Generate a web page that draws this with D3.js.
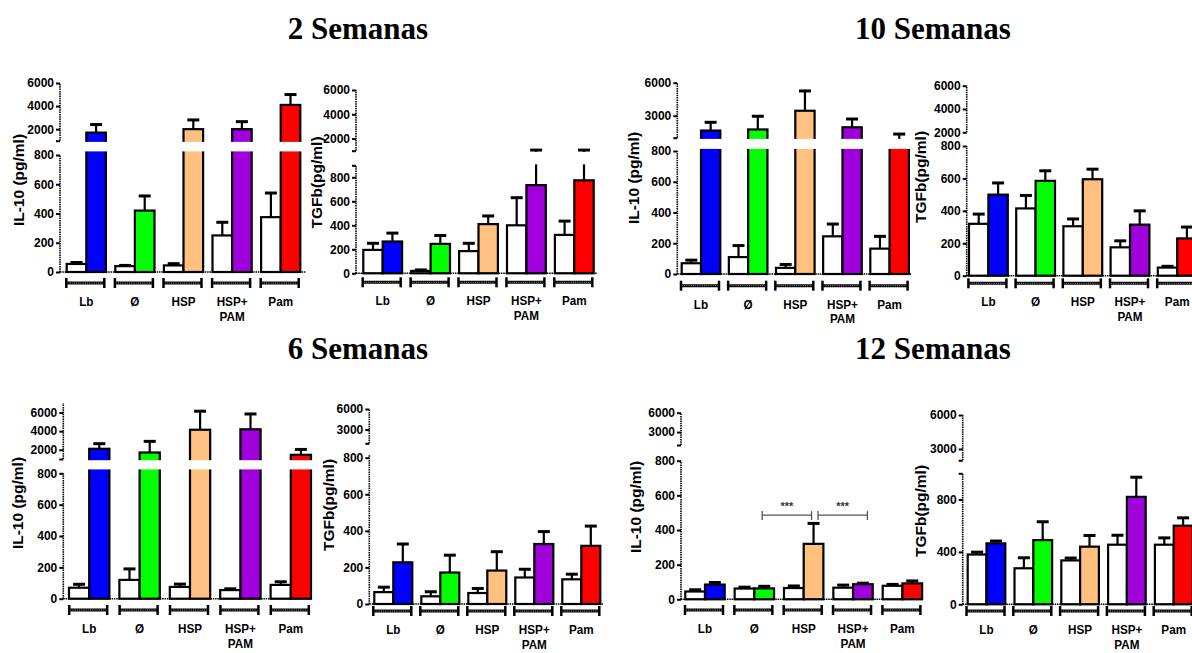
<!DOCTYPE html>
<html>
<head>
<meta charset="utf-8">
<script src="https://cdn.jsdelivr.net/npm/d3@7"></script>
<style>
body { margin: 0; background: #fff; }
svg { display: block; }
.tick text { font-family: "Liberation Sans", Arial, sans-serif; font-weight: bold; font-size: 12px; fill: #000; }
</style>
</head>
<body>
<svg id="chart" width="1192" height="653"></svg>
<script>
// groups and colours
var groups = [["Lb"], ["Ø"], ["HSP"], ["HSP+", "PAM"], ["Pam"]];
var treatColors = ["#0000ff", "#00ff00", "#ffc080", "#a000dc", "#ff0000"];
var titles = ["2 Semanas", "10 Semanas", "6 Semanas", "12 Semanas"];

// 2 semanas
var il10_2sem_ctrl = [55, 40, 45, 250, 375];
var il10_2sem_ctrlErr = [10, 5, 12, 90, 165];
var il10_2sem_trt = [1700, 420, 2000, 2000, 4100];
var il10_2sem_trtErr = [700, 100, 800, 650, 900];

var tgfb_2sem_ctrl = [195, 20, 185, 400, 320];
var tgfb_2sem_ctrlErr = [55, 8, 65, 230, 115];
var tgfb_2sem_trt = [265, 245, 410, 735, 775];
var tgfb_2sem_trtErr = [70, 70, 68, 315, 275];

// 10 semanas
var il10_10sem_ctrl = [70, 110, 40, 245, 165];
var il10_10sem_ctrlErr = [20, 75, 22, 80, 80];
var il10_10sem_trt = [1650, 1750, 3450, 1950, 900];
var il10_10sem_trtErr = [750, 1200, 1800, 750, 430];

var tgfb_10sem_ctrl = [320, 415, 305, 175, 50];
var tgfb_10sem_ctrlErr = [60, 80, 45, 40, 8];
var tgfb_10sem_trt = [500, 585, 595, 315, 230];
var tgfb_10sem_trtErr = [72, 62, 62, 85, 70];

// 6 semanas
var il10_6sem_ctrl = [70, 120, 75, 55, 88];
var il10_6sem_ctrlErr = [22, 70, 18, 8, 20];
var il10_6sem_trt = [2100, 1700, 4150, 4200, 1450];
var il10_6sem_trtErr = [550, 1200, 2000, 1650, 580];

var tgfb_6sem_ctrl = [65, 42, 60, 145, 135];
var tgfb_6sem_ctrlErr = [27, 25, 25, 45, 28];
var tgfb_6sem_trt = [228, 172, 183, 328, 318];
var tgfb_6sem_trtErr = [100, 95, 103, 68, 108];

// 12 semanas
var il10_12sem_ctrl = [45, 62, 65, 67, 78];
var il10_12sem_ctrlErr = [10, 8, 12, 15, 8];
var il10_12sem_trt = [85, 63, 320, 87, 92];
var il10_12sem_trtErr = [12, 12, 118, 6, 14];

var tgfb_12sem_ctrl = [380, 275, 335, 455, 455];
var tgfb_12sem_ctrlErr = [18, 80, 18, 72, 52];
var tgfb_12sem_trt = [465, 490, 440, 820, 600];
var tgfb_12sem_trtErr = [18, 140, 85, 150, 60];

// significance (12 semanas, IL-10): between treated bars of groups
var sig12_pairs = [[1, 2], [2, 3]];
var sig12_labels = ["***", "***"];
var sig12_level = 486;

// layout of each panel (pixel positions only)
var panels = [
  {ctrl: il10_2sem_ctrl, ctrlErr: il10_2sem_ctrlErr, trt: il10_2sem_trt, trtErr: il10_2sem_trtErr, yTitle: "IL-10 (pg/ml)",
   axisX: 60, y0: 272, low: [0, 800], lowTop: 155, lowAxisTop: 155, gapBottom: 152, gapTop: 140.7, up: [1000, 6000], upTop: 83,
   lowTicks: [0, 200, 400, 600, 800], lowMarks: [], upTicks: [2000, 4000, 6000], upMarks: [1000],
   barX0: 66.7, step: 48.6, barW: 19.6, xEnd: 306, bracketY: 283, tx: 18.3, ty: 180},
  {ctrl: tgfb_2sem_ctrl, ctrlErr: tgfb_2sem_ctrlErr, trt: tgfb_2sem_trt, trtErr: tgfb_2sem_trtErr, yTitle: "TGFb(pg/ml)",
   axisX: 356, y0: 273.3, low: [0, 900], lowTop: 165.3, lowAxisTop: 165.3, gapBottom: 165, gapTop: 150.7, up: [1000, 6000], upTop: 90,
   lowTicks: [0, 200, 400, 600, 800], lowMarks: [900], upTicks: [2000, 4000, 6000], upMarks: [1000],
   barX0: 363.3, step: 47.9, barW: 19.4, xEnd: 597, bracketY: 282.3, tx: 316.7, ty: 182.5},
  {ctrl: il10_10sem_ctrl, ctrlErr: il10_10sem_ctrlErr, trt: il10_10sem_trt, trtErr: il10_10sem_trtErr, yTitle: "IL-10 (pg/ml)",
   axisX: 677.3, y0: 274, low: [0, 800], lowTop: 151, lowAxisTop: 151, gapBottom: 149.5, gapTop: 137.7, up: [1000, 6000], upTop: 82.7,
   lowTicks: [0, 200, 400, 600, 800], lowMarks: [], upTicks: [3000, 6000], upMarks: [1000],
   barX0: 681.7, step: 47.15, barW: 19.3, xEnd: 912, bracketY: 285.7, tx: 633.5, ty: 178},
  {ctrl: tgfb_10sem_ctrl, ctrlErr: tgfb_10sem_ctrlErr, trt: tgfb_10sem_trt, trtErr: tgfb_10sem_trtErr, yTitle: "TGFb(pg/ml)",
   axisX: 966.7, y0: 275.7, low: [0, 800], lowTop: 146, lowAxisTop: 146, gapBottom: 146, gapTop: 132.3, up: [2000, 6000], upTop: 85.7,
   lowTicks: [0, 200, 400, 600, 800], lowMarks: [], upTicks: [2000, 4000, 6000], upMarks: [],
   barX0: 969, step: 47.2, barW: 19.4, xEnd: 1200, bracketY: 283.3, tx: 921, ty: 177},
  {ctrl: il10_6sem_ctrl, ctrlErr: il10_6sem_ctrlErr, trt: il10_6sem_trt, trtErr: il10_6sem_trtErr, yTitle: "IL-10 (pg/ml)",
   axisX: 63.3, y0: 598.7, low: [0, 800], lowTop: 473.3, lowAxisTop: 473.3, gapBottom: 470, gapTop: 459, up: [1000, 7000], upTop: 403.3,
   lowTicks: [0, 200, 400, 600, 800], lowMarks: [], upTicks: [2000, 4000, 6000], upMarks: [1000],
   barX0: 69, step: 50.4, barW: 20.2, xEnd: 312, bracketY: 610, tx: 17.5, ty: 503},
  {ctrl: tgfb_6sem_ctrl, ctrlErr: tgfb_6sem_ctrlErr, trt: tgfb_6sem_trt, trtErr: tgfb_6sem_trtErr, yTitle: "TGFb(pg/ml)",
   axisX: 369.3, y0: 604, low: [0, 800], lowTop: 457.7, lowAxisTop: 455, gapBottom: 455, gapTop: 443.3, up: [1000, 6000], upTop: 409,
   lowTicks: [0, 200, 400, 600, 800], lowMarks: [], upTicks: [3000, 6000], upMarks: [1000],
   barX0: 374.3, step: 47, barW: 19, xEnd: 603, bracketY: 611, tx: 329, ty: 505},
  {ctrl: il10_12sem_ctrl, ctrlErr: il10_12sem_ctrlErr, trt: il10_12sem_trt, trtErr: il10_12sem_trtErr, yTitle: "IL-10 (pg/ml)",
   axisX: 681, y0: 599.3, low: [0, 800], lowTop: 460.7, lowAxisTop: 460.7, gapBottom: 460.7, gapTop: 445, up: [1000, 6000], upTop: 412.7,
   lowTicks: [0, 200, 400, 600, 800], lowMarks: [], upTicks: [3000, 6000], upMarks: [1000],
   barX0: 685.3, step: 49.35, barW: 19.7, xEnd: 922, bracketY: 610, tx: 636, ty: 507, sig: true},
  {ctrl: tgfb_12sem_ctrl, ctrlErr: tgfb_12sem_ctrlErr, trt: tgfb_12sem_trt, trtErr: tgfb_12sem_trtErr, yTitle: "TGFb(pg/ml)",
   axisX: 962.7, y0: 604.3, low: [0, 1000], lowTop: 473.3, lowAxisTop: 473.3, gapBottom: 473.3, gapTop: 460.3, up: [2000, 6000], upTop: 415,
   lowTicks: [0, 400, 800], lowMarks: [1000], upTicks: [3000, 6000], upMarks: [2000],
   barX0: 967.7, step: 46.8, barW: 18.8, xEnd: 1200, bracketY: 611, tx: 921, ty: 511}
];

var titlePos = [[358, 38.5], [933, 38.5], [358, 358.5], [933, 358.5]];

var svg = d3.select("#chart");
var font = '"Liberation Sans", Arial, sans-serif';

// big titles
svg.selectAll("text.title").data(titles).join("text")
  .attr("class", "title")
  .attr("x", function(d, i){ return titlePos[i][0] })
  .attr("y", function(d, i){ return titlePos[i][1] })
  .attr("text-anchor", "middle")
  .attr("font-family", '"Liberation Serif", "Times New Roman", serif')
  .attr("font-weight", "bold")
  .attr("font-size", 31)
  .text(function(d){ return d });

function drawPanel(p) {
  var g = svg.append("g");
  var low = d3.scaleLinear().domain(p.low).range([p.y0, p.lowTop]);
  var up = d3.scaleLinear().domain(p.up).range([p.gapTop, p.upTop]);
  // broken axis: lower part, upper part, anything in between is hidden by the gap
  function y(v) {
    var a = low(v);
    if (a >= p.gapBottom) return a;
    var b = up(v);
    if (b <= p.gapTop) return b;
    return (p.gapTop + p.gapBottom) / 2;
  }
  var n = groups.length;
  var pin = 1 - 2 * p.barW / p.step;
  var x = d3.scaleBand().domain(d3.range(n))
    .range([p.barX0, p.barX0 + p.step * (n - pin)])
    .paddingInner(pin).paddingOuter(0);
  var bw = x.bandwidth() / 2;

  var bars = [];
  d3.range(n).forEach(function(i){
    bars.push({i: i, v: p.ctrl[i], e: p.ctrlErr[i], fill: "#fff", off: 0});
    bars.push({i: i, v: p.trt[i], e: p.trtErr[i], fill: treatColors[i], off: 1});
  });

  g.selectAll("rect.bar").data(bars).join("rect")
    .attr("class", "bar")
    .attr("x", function(d){ return x(d.i) + d.off * bw })
    .attr("y", function(d){ return y(d.v) })
    .attr("width", bw)
    .attr("height", function(d){ return p.y0 - y(d.v) })
    .attr("fill", function(d){ return d.fill })
    .attr("stroke", "#000")
    .attr("stroke-width", 2.2);

  // error bars (upper only)
  g.selectAll("line.stem").data(bars).join("line")
    .attr("class", "stem")
    .attr("x1", function(d){ return x(d.i) + d.off * bw + bw / 2 })
    .attr("x2", function(d){ return x(d.i) + d.off * bw + bw / 2 })
    .attr("y1", function(d){ return y(d.v) })
    .attr("y2", function(d){ return y(d.v + d.e) })
    .attr("stroke", "#000").attr("stroke-width", 2.2);
  g.selectAll("line.cap").data(bars).join("line")
    .attr("class", "cap")
    .attr("x1", function(d){ return x(d.i) + d.off * bw + bw / 2 - 6 })
    .attr("x2", function(d){ return x(d.i) + d.off * bw + bw / 2 + 6 })
    .attr("y1", function(d){ return y(d.v + d.e) })
    .attr("y2", function(d){ return y(d.v + d.e) })
    .attr("stroke", "#000").attr("stroke-width", 3);

  // white gap of the broken axis
  g.append("rect")
    .attr("x", p.axisX + 1)
    .attr("y", p.gapTop + 1.2)
    .attr("width", p.xEnd - p.axisX + 4)
    .attr("height", Math.max(0, p.gapBottom - p.gapTop - 1.8))
    .attr("fill", "#fff");

  // y axis segments
  var axLow = d3.axisLeft(low).tickValues(p.lowTicks.concat(p.lowMarks)).tickSize(4).tickPadding(2)
    .tickFormat(function(d){ return p.lowMarks.indexOf(d) >= 0 ? "" : String(d) });
  var axUp = d3.axisLeft(up).tickValues(p.upTicks.concat(p.upMarks)).tickSize(4).tickPadding(2)
    .tickFormat(function(d){ return p.upMarks.indexOf(d) >= 0 ? "" : String(d) });
  [axLow, axUp].forEach(function(ax){
    var ga = g.append("g").attr("transform", "translate(" + p.axisX + ",0)").call(ax);
    ga.select(".domain").remove();
    ga.selectAll(".tick line").attr("stroke", "#000").attr("stroke-width", 2);
  });
  g.append("line")
    .attr("x1", p.axisX).attr("x2", p.axisX).attr("y1", p.y0).attr("y2", p.lowAxisTop)
    .attr("stroke", "#000").attr("stroke-width", 1.6).attr("stroke-dasharray", "1.5,0.8");
  g.append("line")
    .attr("x1", p.axisX).attr("x2", p.axisX).attr("y1", p.gapTop).attr("y2", p.upTop)
    .attr("stroke", "#000").attr("stroke-width", 1.6).attr("stroke-dasharray", "1.5,0.8");
  // x baseline
  g.append("line")
    .attr("x1", p.axisX).attr("x2", p.xEnd).attr("y1", p.y0).attr("y2", p.y0)
    .attr("stroke", "#000").attr("stroke-width", 1.6).attr("stroke-dasharray", "1.5,0.8");

  // y title
  g.append("text")
    .attr("transform", "translate(" + p.tx + "," + p.ty + ") rotate(-90)")
    .attr("text-anchor", "middle")
    .attr("dy", "0.35em")
    .attr("font-family", font).attr("font-weight", "bold").attr("font-size", 15.5)
    .text(p.yTitle);

  // group brackets and labels
  var br = g.selectAll("g.br").data(groups).join("g")
    .attr("class", "br")
    .attr("transform", function(d, i){ return "translate(" + (x(i) + bw - 1) + "," + p.bracketY + ")" });
  br.append("line").attr("x1", -19).attr("x2", 19).attr("stroke", "#000").attr("stroke-width", 3);
  br.append("line").attr("x1", -18).attr("x2", 18).attr("stroke", "#999").attr("stroke-width", 1)
    .attr("stroke-dasharray", "1,1.2");
  br.append("line").attr("x1", -19).attr("x2", -19).attr("y1", -5).attr("y2", 5).attr("stroke", "#000").attr("stroke-width", 2.5);
  br.append("line").attr("x1", 19).attr("x2", 19).attr("y1", -5).attr("y2", 5).attr("stroke", "#000").attr("stroke-width", 2.5);
  br.each(function(lines){
    var sel = d3.select(this);
    lines.forEach(function(t, k){
      sel.append("text")
        .attr("transform", "translate(1," + (23 + k * 14.5) + ") scale(0.9,1)")
        .attr("text-anchor", "middle")
        .attr("font-family", font).attr("font-weight", "bold").attr("font-size", 13)
        .text(t);
    });
  });

  if (p.sig) {
    var ys = low(sig12_level);
    var offs = [-2, 4.5];
    sig12_pairs.forEach(function(pr, k){
      var xa = x(pr[0]) + bw * 1.5 + offs[k];
      var xb = x(pr[1]) + bw * 1.5 + offs[k];
      var sg = g.append("g").attr("stroke", "#555").attr("stroke-width", 1.3);
      sg.append("line").attr("x1", xa).attr("x2", xb).attr("y1", ys).attr("y2", ys);
      sg.append("line").attr("x1", xa).attr("x2", xa).attr("y1", ys - 4).attr("y2", ys + 5);
      sg.append("line").attr("x1", xb).attr("x2", xb).attr("y1", ys - 4).attr("y2", ys + 5);
      g.append("text")
        .attr("x", (xa + xb) / 2).attr("y", ys - 5)
        .attr("text-anchor", "middle")
        .attr("font-family", font).attr("font-weight", "bold").attr("font-size", 11)
        .attr("fill", "#333")
        .text(sig12_labels[k]);
    });
  }
}

panels.forEach(drawPanel);
</script>
</body>
</html>
